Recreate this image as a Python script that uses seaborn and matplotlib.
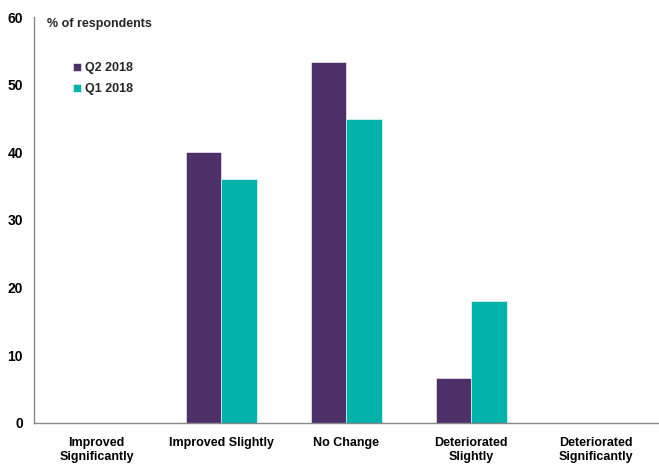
import matplotlib
matplotlib.use("Agg")
import matplotlib.pyplot as plt
import seaborn as sns
import pandas as pd

categories = ["Improved\nSignificantly", "Improved Slightly", "No Change",
              "Deteriorated\nSlightly", "Deteriorated\nSignificantly"]
q2_2018 = [0, 40.0, 53.3, 6.6, 0]
q1_2018 = [0, 36.0, 45.0, 18.0, 0]
series_names = ["Q2 2018", "Q1 2018"]
colors = ["#4E3069", "#00B2A9"]

df = pd.DataFrame({
    "category": categories * 2,
    "value": q2_2018 + q1_2018,
    "series": [series_names[0]] * len(categories) + [series_names[1]] * len(categories),
})

sns.set_theme(style="white")
plt.rcParams["font.family"] = ["Liberation Sans", "DejaVu Sans"]

fig = plt.figure(figsize=(6.59, 4.66), dpi=100)
ax = fig.add_axes([0.0516, 0.0923, 0.948, 0.8712])

sns.barplot(data=df, x="category", y="value", hue="series", order=categories,
            hue_order=series_names, palette=colors, width=0.57, ax=ax,
            edgecolor="white", linewidth=0.4, saturation=1)

ax.set_ylim(0, 60)
ax.set_xlim(-0.5, 4.5)
ax.set_yticks(range(0, 61, 10))
ax.set_xlabel("")
ax.set_ylabel("")
ax.tick_params(axis="both", length=0, colors="black")
ax.tick_params(axis="x", labelsize=9, pad=10)
ax.tick_params(axis="y", labelsize=10, pad=8)
for lbl in ax.get_xticklabels() + ax.get_yticklabels():
    lbl.set_fontweight("bold")

for s in ["top", "right"]:
    ax.spines[s].set_visible(False)
for s in ["left", "bottom"]:
    ax.spines[s].set_color("#888888")
    ax.spines[s].set_linewidth(1.0)

leg = ax.legend(loc="upper left", bbox_to_anchor=(0.045, 0.917), frameon=False,
                handlelength=0.6, handleheight=0.6, handletextpad=0.3,
                labelspacing=0.74, prop={"weight": "bold", "size": 9})

fig.text(47 / 659, 1 - 24 / 466, "% of respondents", fontsize=9, fontweight="bold",
         va="center", ha="left")

fig.savefig("out.png", dpi=100)
